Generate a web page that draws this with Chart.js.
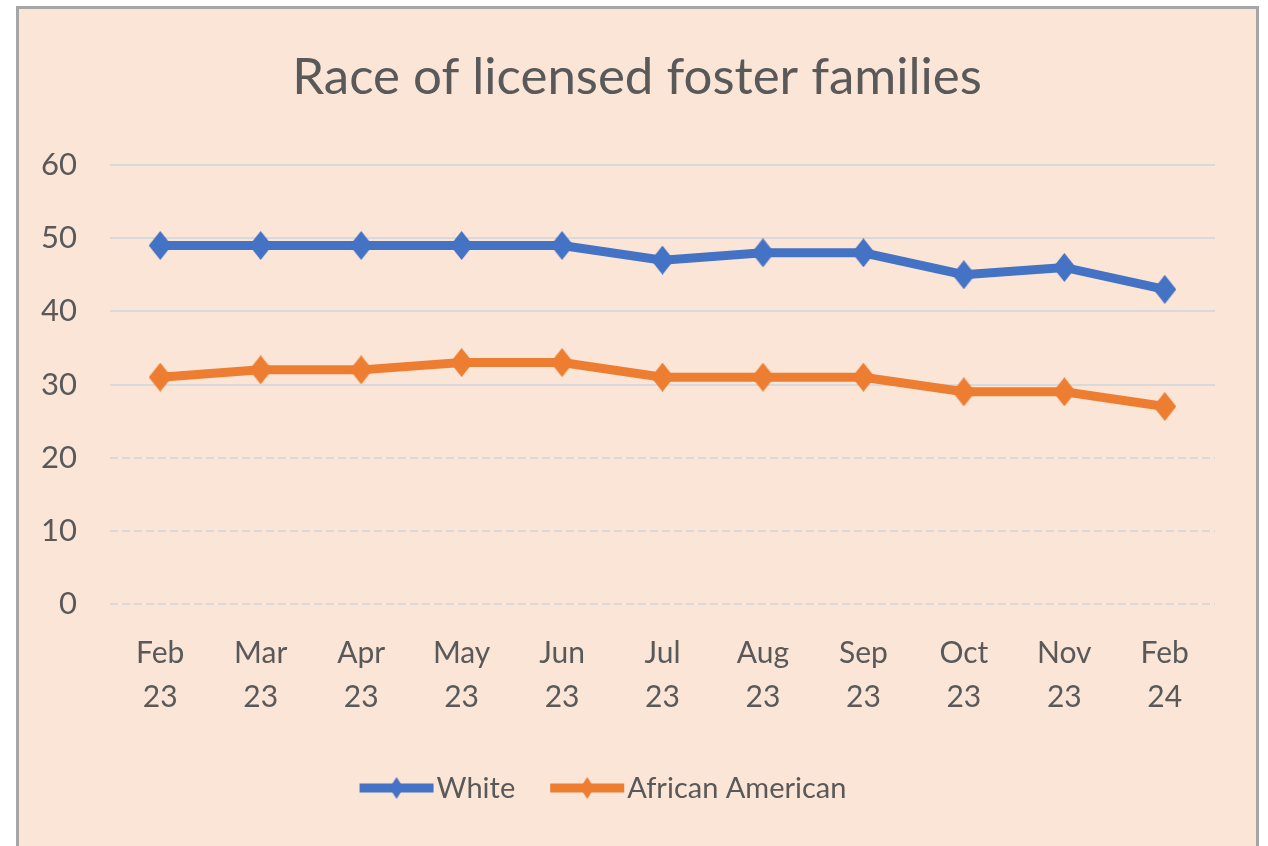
<!DOCTYPE html>
<html>
<head>
<meta charset="utf-8">
<script src="https://cdn.jsdelivr.net/npm/chart.js@4.4.1/dist/chart.umd.min.js"></script>
<style>
    html, body { margin: 0; padding: 0; background: #ffffff; overflow: hidden; }
    #frame {
        position: absolute; left: 16px; top: 6px; width: 1237px; height: 900px;
        border: 3px solid #a6a6a6; background: #fbe5d6;
    }
    #wrap { position: absolute; left: 0; top: 0; width: 1268px; height: 846px; }
</style>
</head>
<body>
<div id="frame"></div>
<div id="wrap"><canvas id="raceChart"></canvas></div>
<script>
    // --- Data ---
    const categories = [['Feb', '23'], ['Mar', '23'], ['Apr', '23'], ['May', '23'], ['Jun', '23'], ['Jul', '23'],
        ['Aug', '23'], ['Sep', '23'], ['Oct', '23'], ['Nov', '23'], ['Feb', '24']];
    const whiteValues = [49, 49, 49, 49, 49, 47, 48, 48, 45, 46, 43];
    const africanAmericanValues = [31, 32, 32, 33, 33, 31, 31, 31, 29, 29, 27];
    const seriesNames = ['White', 'African American'];
    const yMin = 0, yMax = 60, yStep = 10;

    const chartTitle = 'Race of licensed foster families';
    const FONT = "Lato, 'Liberation Sans', sans-serif";
    const TEXT = '#595959';
    const BLUE = '#4472c4';
    const ORANGE = '#ed7d31';

    // narrow diamond marker, taller than wide
    function makeDiamond(color, w, h) {
        const c = document.createElement('canvas');
        c.width = w; c.height = h;
        const g = c.getContext('2d');
        g.fillStyle = color;
        g.beginPath();
        g.moveTo(w / 2, 0);
        g.lineTo(w, h / 2);
        g.lineTo(w / 2, h);
        g.lineTo(0, h / 2);
        g.closePath();
        g.fill();
        return c;
    }

    const colors = [BLUE, ORANGE];
    const markers = colors.map(c => makeDiamond(c, 23, 29));
    const legendMarkers = colors.map(c => makeDiamond(c, 14, 22));

    // title centred on the whole frame, not just the plot
    const frameTitle = {
        id: 'frameTitle',
        afterDraw(chart) {
            const ctx = chart.ctx;
            ctx.save();
            ctx.font = '51px ' + FONT;
            ctx.fillStyle = TEXT;
            ctx.textAlign = 'center';
            ctx.textBaseline = 'middle';
            ctx.fillText(chartTitle, chart.width / 2 + 3, 78);
            ctx.restore();
        }
    };

    // legend drawn as line + diamond like the office style
    const lineLegend = {
        id: 'lineLegend',
        afterDraw(chart) {
            const ctx = chart.ctx;
            ctx.save();
            ctx.font = '29px ' + FONT;
            ctx.textBaseline = 'middle';
            const lineW = 74, gapText = 3, gapItem = 35;
            const items = chart.data.datasets.map((ds, i) => ({
                label: ds.label, color: ds.borderColor, marker: legendMarkers[i],
                w: lineW + gapText + ctx.measureText(ds.label).width
            }));
            const total = items.reduce((s, it) => s + it.w, 0) + gapItem * (items.length - 1);
            let x = 603 - total / 2;
            const y = chart.scales.x.bottom + 64;
            items.forEach(it => {
                ctx.strokeStyle = it.color;
                ctx.lineWidth = 9;
                ctx.beginPath();
                ctx.moveTo(x, y);
                ctx.lineTo(x + lineW, y);
                ctx.stroke();
                ctx.drawImage(it.marker, x + lineW / 2 - it.marker.width / 2, y - it.marker.height / 2);
                ctx.fillStyle = TEXT;
                ctx.fillText(it.label, x + lineW + gapText, y + 1);
                x += it.w + gapItem;
            });
            ctx.restore();
        }
    };

    function main() {
        const ctx = document.getElementById('raceChart').getContext('2d');
        new Chart(ctx, {
            type: 'line',
            data: {
                labels: categories,
                datasets: [
                    {
                        label: seriesNames[0],
                        data: whiteValues,
                        borderColor: BLUE,
                        backgroundColor: BLUE,
                        borderWidth: 9,
                        pointStyle: markers[0],
                        tension: 0
                    },
                    {
                        label: seriesNames[1],
                        data: africanAmericanValues,
                        borderColor: ORANGE,
                        backgroundColor: ORANGE,
                        borderWidth: 9,
                        pointStyle: markers[1],
                        tension: 0
                    }
                ]
            },
            options: {
                responsive: true,
                maintainAspectRatio: false,
                animation: false,
                layout: { padding: { left: 0, right: 53, top: 165, bottom: 122 } },
                plugins: {
                    legend: { display: false },
                    tooltip: { enabled: false },
                    title: { display: false }
                },
                scales: {
                    x: {
                        offset: true,
                        grid: { display: false, drawTicks: false },
                        border: { display: false },
                        ticks: {
                            color: TEXT, padding: 28, maxRotation: 0, autoSkip: false,
                            font: { family: FONT, size: 30, lineHeight: 1.45 }
                        },
                        afterFit: s => { s.height = 120; }
                    },
                    y: {
                        min: yMin, max: yMax,
                        grid: { color: '#d9d9d9', lineWidth: 2, drawTicks: false },
                        border: {
                            display: false,
                            dash: c => (c.tick && c.tick.value <= 20 ? [8, 4] : [])
                        },
                        ticks: {
                            stepSize: yStep, color: TEXT, padding: 33,
                            font: { family: FONT, size: 31 }
                        },
                        afterFit: s => { s.width = 110; }
                    }
                }
            },
            plugins: [frameTitle, lineLegend]
        });
    }

    main();
</script>
</body>
</html>
